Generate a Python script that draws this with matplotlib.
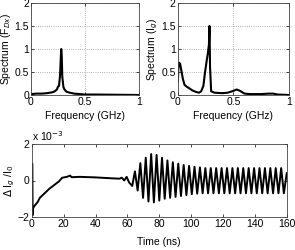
import numpy as np
import matplotlib.pyplot as plt

plt.rcParams['font.family'] = ['Liberation Sans', 'DejaVu Sans']
plt.rcParams['font.size'] = 7.5

# spectrum of F_Dx
f_dx = [0, 0.05, 0.1, 0.15, 0.2, 0.22, 0.24, 0.25, 0.26, 0.27, 0.275, 0.28, 0.285,
        0.29, 0.3, 0.31, 0.33, 0.36, 0.4, 0.45, 0.5, 0.6, 0.8, 1.0]
s_dx = [0.02, 0.03, 0.03, 0.04, 0.06, 0.08, 0.12, 0.18, 0.2, 0.45, 0.75, 1.0, 0.85,
        0.4, 0.18, 0.12, 0.07, 0.05, 0.03, 0.02, 0.01, 0.01, 0.005, 0.0]

# spectrum of I_g
f_ig = [0, 0.005, 0.012, 0.02, 0.03, 0.045, 0.06, 0.08, 0.1, 0.13, 0.16, 0.19, 0.21,
        0.23, 0.245, 0.26, 0.27, 0.28, 0.285, 0.29, 0.3, 0.33, 0.4, 0.45, 0.5, 0.53,
        0.56, 0.6, 0.65, 0.75, 0.82, 0.86, 0.9, 1.0]
s_ig = [0.3, 0.6, 0.7, 0.68, 0.55, 0.35, 0.22, 0.18, 0.15, 0.1, 0.07, 0.05, 0.08,
        0.2, 0.5, 0.75, 0.9, 1.1, 1.5, 0.6, 0.08, 0.05, 0.04, 0.05, 0.09, 0.12,
        0.09, 0.03, 0.02, 0.02, 0.03, 0.03, 0.01, 0.0]

# time signal (x 1e-3), transient part
t_early = [0.3, 0.5, 0.8, 1.2, 2, 3.5, 5, 8, 11, 14, 17, 19, 22, 24, 25, 30, 40, 50,
           55, 56.5, 58, 59.5, 61]
v_early = [0.9, -1.9, -1.5, -1.45, -1.35, -1.2, -0.95, -0.7, -0.45, -0.25, -0.05,
           0.15, 0.2, 0.27, 0.18, 0.2, 0.17, 0.12, 0.1, 0.15, 0.0, 0.2, -0.1]
# extrema of the oscillation, every half period from 63 ns
osc_vals = [-0.3, 0.5, -0.55, 0.95, -0.95, 1.25, -1.15, 1.45, -1.2, 1.4, -1.1, 1.25,
            -1.0, 1.1, -0.95, 1.0, -0.9, 0.92, -0.85, 0.85, -0.8, 0.8, -0.75, 0.75,
            -0.72, 0.72] + [-0.7, 0.68] * 15 + [-0.7]
half_period = 1.7
t_osc = 63 + half_period * np.arange(len(osc_vals))

t = np.concatenate([t_early, t_osc, [160]])
v = np.concatenate([v_early, osc_vals, [0.4]])

fig = plt.figure(figsize=(2.95, 2.5), dpi=100)
ax1 = fig.add_axes([0.105, 0.62, 0.366, 0.368])
ax2 = fig.add_axes([0.603, 0.62, 0.376, 0.368])
ax3 = fig.add_axes([0.108, 0.132, 0.864, 0.292])

for ax, f, s, lab in [(ax1, f_dx, s_dx, 'Spectrum (F$_{Dx}$)'),
                      (ax2, f_ig, s_ig, 'Spectrum (I$_g$)')]:
    ax.plot(f, s, color='black', lw=1.5)
    ax.set_xlim(0, 1)
    ax.set_ylim(0, 2)
    ax.set_xticks([0, 0.5, 1])
    ax.set_xticklabels(['0', '0.5', '1'])
    ax.set_yticks([0, 0.5, 1, 1.5, 2])
    ax.set_yticklabels(['0', '0.5', '1', '1.5', '2'])
    ax.grid(True, ls=':', color='#999999', lw=0.6)
    ax.set_xlabel('Frequency (GHz)', labelpad=3)
    ax.set_ylabel(lab, labelpad=1)

ax3.plot(t, v, color='black', lw=1.4)
ax3.set_xlim(0, 160)
ax3.set_ylim(-2, 2)
ax3.set_xticks(range(0, 161, 20))
ax3.set_yticks([-2, 0, 2])
ax3.set_xlabel('Time (ns)', labelpad=6)
ax3.set_ylabel('$\\Delta$ I$_g$ /I$_0$', labelpad=1)
ax3.text(0.0, 1.01, 'x 10$^{-3}$', transform=ax3.transAxes, ha='left', va='bottom')

for ax in (ax1, ax2, ax3):
    ax.tick_params(direction='in', top=True, right=True, length=2.5, width=0.5, pad=1.5)
    for sp in ax.spines.values():
        sp.set_linewidth(0.6)
        sp.set_color('#444444')

fig.savefig('out.png', dpi=100)
